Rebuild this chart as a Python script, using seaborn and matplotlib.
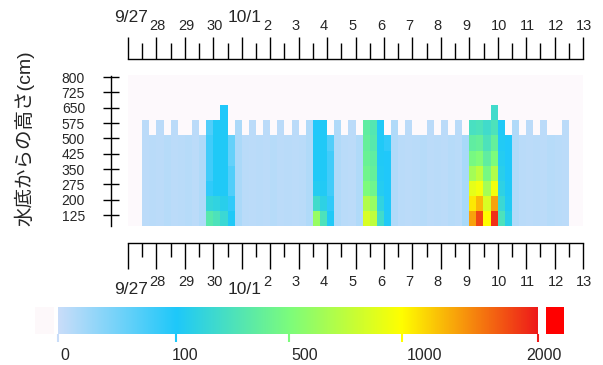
import numpy as np
import pandas as pd
import matplotlib
matplotlib.use('Agg')
import matplotlib.pyplot as plt
from matplotlib.colors import LinearSegmentedColormap, FuncNorm
import seaborn as sns

sns.set_style('white')
plt.rcParams['font.family'] = ['Liberation Sans', 'Noto Sans CJK JP']

NA = np.nan

# 6時間ごと (9/27 12:00 ~ 10/12 12:00, 60列), 高さごとの値
heights = [125, 200, 275, 350, 425, 500, 575, 650]

h125 = [8, 10, 8, 12, 8, 10, 12, 8, 15,
        350, 300, 220, 110,
        18, 10, 8, 10, 8, 12, 8, 10, 8, 10, 15,
        600, 300, 110,
        15, 10, 8, 15,
        850, 750, 250, 110,
        15, 10, 8, 10, 12, 8, 10, 8, 12, 10, 20,
        1400, 1800, 1000, 1900, 300, 150,
        15, 10, 8, 10, 8, 12, 10, 8]
h200 = [8, 10, 8, 12, 8, 10, 12, 8, 15,
        200, 180, 150, 90,
        18, 10, 8, 10, 8, 12, 8, 10, 8, 10, 15,
        250, 170, 90,
        15, 10, 8, 15,
        700, 600, 180, 100,
        15, 10, 8, 10, 12, 8, 10, 8, 12, 10, 20,
        1100, 1300, 850, 1400, 220, 120,
        15, 10, 8, 10, 8, 12, 10, 8]
h275 = [8, 10, 8, 12, 8, 10, 12, 8, 15,
        90, 110, 110, 70,
        18, 10, 8, 10, 8, 12, 8, 10, 8, 10, 15,
        130, 120, 80,
        15, 10, 8, 15,
        500, 450, 130, 100,
        15, 10, 8, 10, 12, 8, 10, 8, 12, 10, 20,
        900, 950, 650, 950, 170, 110,
        15, 10, 8, 10, 8, 12, 10, 8]
h350 = [8, 10, 8, 12, 8, 10, 12, 8, 15,
        80, 110, 110, 70,
        18, 10, 8, 10, 8, 12, 8, 10, 8, 10, 15,
        110, 110, 80,
        15, 10, 8, 15,
        450, 400, 120, 100,
        15, 10, 8, 10, 12, 8, 10, 8, 12, 10, 20,
        650, 750, 480, 700, 150, 100,
        15, 10, 8, 10, 8, 12, 10, 8]
h425 = [8, 10, 8, 12, 8, 10, 12, 8, 15,
        80, 110, 110, 60,
        18, 10, 8, 10, 8, 12, 8, 10, 8, 10, 15,
        110, 110, 80,
        15, 10, 8, 15,
        420, 380, 110, 100,
        15, 10, 8, 10, 12, 8, 10, 8, 12, 10, 20,
        480, 520, 380, 500, 130, 100,
        15, 10, 8, 10, 8, 12, 10, 8]
h500 = [8, 10, 8, 12, 8, 10, 12, 8, 15,
        80, 110, 110, 60,
        18, 10, 8, 10, 8, 12, 8, 10, 8, 10, 15,
        110, 110, 70,
        15, 10, 8, 15,
        400, 350, 110, 90,
        15, 10, 8, 10, 12, 8, 10, 8, 12, 10, 20,
        380, 400, 300, 400, 120, 100,
        15, 10, 8, 10, 8, 12, 10, 8]
h575 = [8, NA, 8, NA, 8, NA, NA, 8, NA,
        70, 110, 110, NA,
        18, NA, 8, NA, 8, NA, 8, NA, 8, NA, 15,
        100, 110, NA,
        15, NA, 8, NA,
        380, 330, 110, NA,
        15, NA, 8, NA, NA, 8, NA, 8, NA, 10, NA,
        280, 300, 250, 300, 110, NA,
        15, NA, 8, NA, 8, NA, NA, 8]
h650 = [NA, NA, NA, NA, NA, NA, NA, NA, NA,
        NA, NA, 100, NA,
        NA, NA, NA, NA, NA, NA, NA, NA, NA, NA, NA,
        NA, NA, NA,
        NA, NA, NA, NA,
        NA, NA, NA, NA,
        NA, NA, NA, NA, NA, NA, NA, NA, NA, NA, NA,
        NA, NA, NA, 250, NA, NA,
        NA, NA, NA, NA, NA, NA, NA, NA]

day_labels = ['9/27', '28', '29', '30', '10/1', '2', '3', '4', '5', '6',
              '7', '8', '9', '10', '11', '12', '13']
ytick_vals = [125, 200, 275, 350, 425, 500, 575, 650, 725, 800]
levels = [0, 100, 500, 1000, 2000]
level_colors = ['#C9DDF9', '#1EC8FA', '#7CFC7C', '#FFFF00', '#EE1A1A']

grid = pd.DataFrame([h650, h575, h500, h425, h350, h275, h200, h125],
                    index=heights[::-1])

#%%
pos = [0, 0.246, 0.482, 0.716, 1.0]
cmap = LinearSegmentedColormap.from_list('wq', list(zip(pos, level_colors)))
norm = FuncNorm((lambda v: np.interp(v, levels, pos),
                 lambda p: np.interp(p, pos, levels)), vmin=0, vmax=2000)
NA_COLOR = '#FDF9FC'

W, H = 603, 365
fig = plt.figure(figsize=(W / 100, H / 100), dpi=100)


def rect(l, t, r, b):
    return [l / W, 1 - b / H, (r - l) / W, (b - t) / H]


X0, DAY = 128, 28.44


def hide(ax, keep=()):
    for k, s in ax.spines.items():
        s.set_visible(k in keep)
        s.set_linewidth(1.0)
        s.set_color('black')


# 背景 (欠測部分)
bg = fig.add_axes(rect(X0, 75, X0 + 16 * DAY, 226))
bg.set_facecolor(NA_COLOR)
bg.set_xticks([])
bg.set_yticks([])
hide(bg)

hm = fig.add_axes(rect(X0 + 0.5 * DAY, 105.2, X0 + 15.5 * DAY, 226))
sns.heatmap(grid, ax=hm, cmap=cmap, norm=norm, cbar=False,
            xticklabels=False, yticklabels=False)
hm.set_facecolor(NA_COLOR)
hm.set_xlabel('')
hm.set_ylabel('')

# y軸
yax = fig.add_axes(rect(111, 76, 112, 226))
yax.patch.set_alpha(0)
yax.set_ylim(71.2, 804.9)
yax.set_yticks(ytick_vals)
yax.set_xticks([])
hide(yax, keep=('left',))
yax.tick_params(axis='y', left=True, direction='inout', length=12.2, width=1.0,
                pad=12.6, labelsize=10, color='black')

# 日付軸 (上・下)
tax = fig.add_axes(rect(X0, 58, X0 + 16 * DAY, 59))
bax = fig.add_axes(rect(X0, 242, X0 + 16 * DAY, 243))
for ax, d, lmaj, lmin in [(tax, 'in', 15.8, 11.5), (bax, 'out', 18.4, 10.0)]:
    ax.patch.set_alpha(0)
    ax.set_xlim(0, 16)
    ax.set_yticks([])
    ax.set_xticks(range(17))
    ax.set_xticks(np.arange(0.5, 16, 1), minor=True)
    hide(ax, keep=('bottom',))
    ax.tick_params(axis='x', which='major', bottom=True, direction=d,
                   length=lmaj, width=1.0, labelbottom=False, color='black')
    ax.tick_params(axis='x', which='minor', bottom=True, direction=d,
                   length=lmin, width=1.0, color='black')

for i, s in enumerate(day_labels):
    x = X0 + i * DAY
    if '/' in s:
        x += 3
        fig.text(x / W, 1 - 18 / H, s, ha='center', va='center', fontsize=12.5)
        fig.text(x / W, 1 - 290 / H, s, ha='center', va='center', fontsize=12.5)
    else:
        x += 1 if len(s) == 2 else -3
        fig.text(x / W, 1 - 26 / H, s, ha='center', va='center', fontsize=10.5)
        fig.text(x / W, 1 - 282 / H, s, ha='center', va='center', fontsize=10.5)

fig.text(24 / W, 1 - 138 / H, '水底からの高さ(cm)', rotation=90,
         ha='center', va='center', fontsize=14)

# カラーバー
cax = fig.add_axes(rect(58, 307, 538, 334))
cax.imshow(np.linspace(0, 1, 256)[None, :], cmap=cmap, aspect='auto',
           extent=[0, 1, 0, 1])
cax.set_xlim(0, 1)
cax.set_ylim(0, 1)
cax.set_yticks([])
cax.set_xticks([])
hide(cax)
for p, c in zip(norm(np.array(levels, dtype=float)), level_colors):
    cax.plot([p, p], [-0.3, 0], color=c, lw=1.5, clip_on=False,
             solid_capstyle='butt')

for l, r, c in [(35, 54, '#FDF8FA'), (546, 564, '#FF0000')]:
    sw = fig.add_axes(rect(l, 307, r, 334))
    sw.set_facecolor(c)
    sw.set_xticks([])
    sw.set_yticks([])
    hide(sw)

for x, v in zip(np.linspace(65, 544, 5), levels):
    fig.text(x / W, 1 - 356 / H, str(v), ha='center', va='center', fontsize=11.5)

fig.savefig('out.png', dpi=100)
